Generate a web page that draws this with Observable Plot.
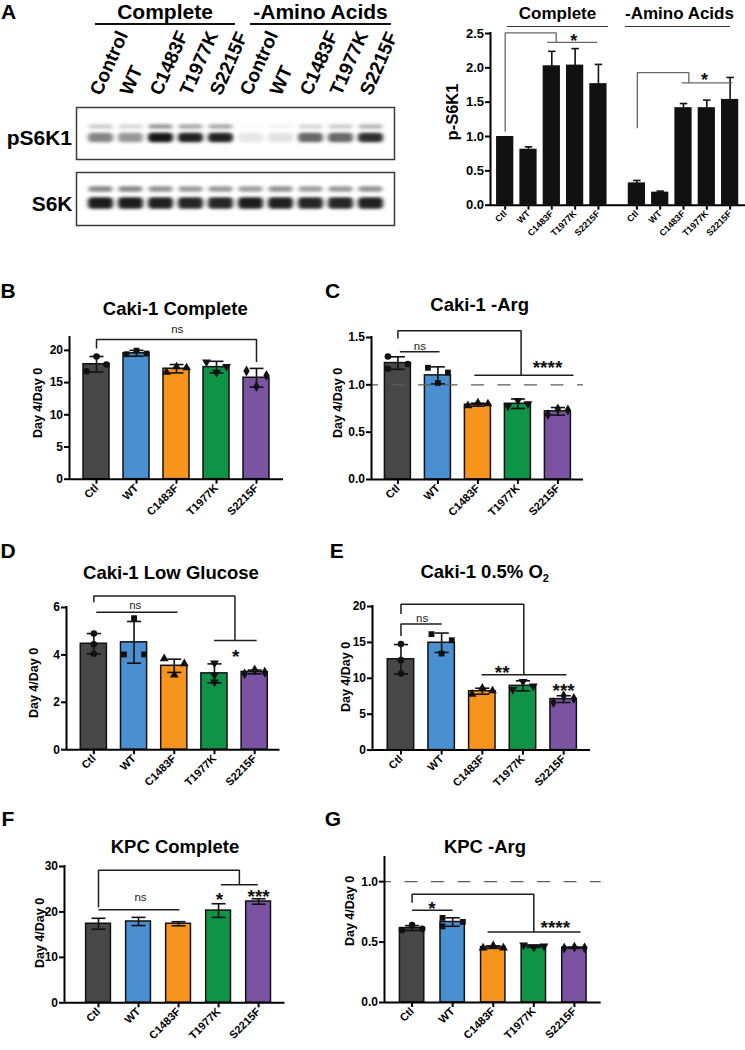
<!DOCTYPE html>
<html><head><meta charset="utf-8">
<script src="https://cdn.jsdelivr.net/npm/d3@7"></script>
<script src="https://cdn.jsdelivr.net/npm/@observablehq/plot@0.6"></script>
<style>
body{margin:0;background:#fff;}
#fig{position:relative;width:745px;height:1050px;font-family:"Liberation Sans",Arial,sans-serif;color:#000;overflow:hidden;background:#fff}
.abs{position:absolute;white-space:nowrap;line-height:1}
.c{transform:translate(-50%,-50%)}
.letter{font-size:21px;font-weight:bold}
.title{font-size:18.5px;font-weight:bold}
.title sub{font-size:11px;vertical-align:-4px}
.ylab{font-size:12.5px;font-weight:bold;transform:translate(-50%,-50%) rotate(-90deg)}
.grp{font-weight:bold;text-align:center;border-bottom:2px solid #111}
.rlab{font-size:21px;font-weight:bold;transform:translate(-100%,-50%)}
</style></head><body><div id="fig"></div><script>
// ---------- data ----------
const categories = ["Ctl","WT","C1483F","T1977K","S2215F"];
const barColors = ["#474747","#4a8fd0","#f7941d","#0f9347","#7a53a3"];
const laneLabels = ["Control","WT","C1483F","T1977K","S2215F","Control","WT","C1483F","T1977K","S2215F"];
const groupLabels = ["Complete","-Amino Acids"];
// western blot band intensities (0 = none, 1 = black)
const pS6K1Upper = [0.2,0.16,0.42,0.36,0.36,0.02,0.04,0.16,0.2,0.3];
const pS6K1Lower = [0.5,0.42,0.95,0.9,0.9,0.1,0.12,0.62,0.62,0.85];
const s6kUpper = [0.5,0.5,0.45,0.42,0.42,0.4,0.45,0.4,0.42,0.45];
const s6kLower = [0.92,0.92,0.9,0.88,0.88,0.92,0.9,0.88,0.88,0.9];
// A: p-S6K1 quantification
const aCompleteMean = [1.0,0.815,2.03,2.04,1.77];
const aCompleteSD = [0,0.035,0.21,0.24,0.28];
const aAminoMean = [0.325,0.19,1.42,1.42,1.54];
const aAminoSD = [0.035,0.015,0.06,0.11,0.32];
const aTicks = [0,0.5,1,1.5,2,2.5];
const aBrackets = [[[0,1.07],[0,2.51],[2.19,2.51],[2.19,2.37]],[[1.8,2.37],[3.95,2.37]],[[5.67,1.12],[5.67,1.93],[7.88,1.93],[7.88,1.78]],[[7.57,1.78],[9.74,1.78]]];
const aSig = [[2.94,2.46,"*"],[8.55,1.89,"*"]];
// B: Caki-1 Complete
const bMean = [17.85,19.55,17.15,17.4,15.75];
const bSD = [1.2,0.45,0.65,0.9,1.45];
const bPoints = [[[19.05,0],[16.75,-1],[17.8,1]],[[19.4,-1],[19.95,0],[19.5,1]],[[16.6,-1],[17.45,0],[17.3,1]],[[18.2,-1],[16.6,0],[17.5,1]],[[16.8,-1],[14.4,0],[16.1,1]]];
const bTicks = [0,5,10,15,20];
const bBrackets = [[[0,20.3],[0,21.7],[4,21.7],[4,18.2]]];
const bSig = [[2.02,23.25,"ns"]];
// C: Caki-1 -Arg
const cMean = [1.23,1.10,0.79,0.80,0.72];
const cSD = [0.066,0.09,0.016,0.05,0.04];
const cPoints = [[[1.30,-1],[1.17,-1],[1.22,1]],[[1.18,-1],[1.13,1],[1.02,0]],[[0.78,-1],[0.81,0],[0.80,1]],[[0.775,-1],[0.835,0],[0.80,1]],[[0.685,-1],[0.745,0],[0.735,1]]];
const cTicks = [0,0.5,1.0,1.5];
const cBrackets = [[[0,1.49],[0,1.57],[3.08,1.57],[3.08,1.10]],[[1.91,1.10],[4.39,1.10]],[[0.05,1.35],[1.04,1.35]]];
const cSig = [[0.55,1.41,"ns"],[3.74,1.235,"****"]];
// D: Caki-1 Low Glucose
const dMean = [4.47,4.53,3.54,3.22,3.28];
const dSD = [0.43,0.88,0.28,0.40,0.08];
const dPoints = [[[4.9,0],[4.45,0],[4.05,0]],[[5.55,0],[4.02,-1],[4.02,1]],[[3.84,-1],[3.63,1],[3.15,0]],[[3.65,0],[3.15,0],[2.85,0]],[[3.2,-1],[3.36,0],[3.27,1]]];
const dTicks = [0,2,4,6];
const dBrackets = [[[0,6.22],[0,6.48],[3.51,6.48],[3.51,4.61]],[[2.99,4.61],[4.05,4.61]],[[0.06,5.8],[2.08,5.8]]];
const dSig = [[1.03,6.08,"ns"],[3.53,4.12,"*"]];
// E: Caki-1 0.5% O2
const eMean = [12.65,14.95,8.2,8.95,7.1];
const eSD = [2.05,1.35,0.42,0.7,0.47];
const ePoints = [[[14.76,0],[12.53,0],[10.67,0]],[[16.15,-1],[15.3,1],[13.45,0]],[[7.8,-1],[8.63,0],[8.26,1]],[[8.44,-1],[9.55,0],[8.91,1]],[[6.63,-1],[7.56,0],[7.19,1]]];
const eTicks = [0,5,10,15,20];
const eBrackets = [[[0,18.94],[0,20.33],[3.02,20.33],[3.02,10.49]],[[0,15.9],[0,17.55],[1,17.55]],[[1.98,10.49],[4.07,10.49]]];
const eSig = [[0.52,18.3,"ns"],[2.49,11.5,"**"],[4.0,8.95,"***"]];
// F: KPC Complete
const fMean = [17.4,17.9,17.4,20.3,22.3];
const fSD = [1.2,0.9,0.45,1.5,0.6];
const fTicks = [0,10,20,30];
const fBrackets = [[[0,21.0],[0,29.2],[3.52,29.2],[3.52,26.0]],[[3.06,26.0],[3.98,26.0]],[[0,20.5],[2.02,20.5]]];
const fSig = [[1.05,23.2,"ns"],[3.02,23.7,"*"],[4.0,24.3,"***"]];
// G: KPC -Arg
const gMean = [0.616,0.666,0.458,0.466,0.453];
const gSD = [0.02,0.035,0.01,0.01,0.005];
const gPoints = [[[0.598,-1],[0.64,0],[0.61,1]],[[0.70,-1],[0.63,-1],[0.667,1]],[[0.452,-1],[0.47,0],[0.452,1]],[[0.475,-1],[0.456,0],[0.467,1]],[[0.45,-1],[0.458,0],[0.452,1]]];
const gTicks = [0,0.5,1.0];
const gBrackets = [[[0,0.825],[0,0.895],[3.0,0.895],[3.0,0.583]],[[1.86,0.583],[4.15,0.583]],[[0,0.764],[1.0,0.764]]];
const gSig = [[0.49,0.82,"*"],[3.53,0.66,"****"]];

// ---------- helpers ----------
const FONT = "Liberation Sans, Arial, sans-serif";
const fig = document.getElementById("fig");
function addDiv(html, cls, left, top, css) {
  const d = document.createElement("div");
  d.className = "abs " + cls; d.innerHTML = html;
  d.style.left = left + "px"; d.style.top = top + "px";
  if (css) d.style.cssText += css;
  fig.appendChild(d); return d;
}
function place(svg, left, top) {
  svg.style.position = "absolute"; svg.style.left = left + "px"; svg.style.top = top + "px";
  svg.style.overflow = "visible"; fig.appendChild(svg);
}
const triangleDown = {draw(ctx, size) {
  const y = Math.sqrt(size / (Math.sqrt(3) * 3)), s = Math.sqrt(3);
  ctx.moveTo(0, 2 * y); ctx.lineTo(-s * y, -y); ctx.lineTo(s * y, -y); ctx.closePath();
}};
const pointSymbols = ["circle","square","triangle",triangleDown,"diamond"];

function barPanel(o) {
  const [fx0, fx1, fy0, fy1] = o.frame;
  const ml = 50, mr = 22, mt = 44, mb = 62;
  const n = o.cats.length;
  const xs = o.xs || d3.range(n);
  const labelOf = new Map(xs.map((x, i) => [x, o.cats[i]]));
  const bars = o.cats.map((c, i) => ({x: xs[i], mean: o.means[i], sd: o.sds[i], color: o.colors[i]}));
  const errs = bars.filter(d => d.sd > 0);
  const caps = errs.flatMap(d => o.upOnly ? [{x: d.x, y: d.mean + d.sd}] : [{x: d.x, y: d.mean + d.sd}, {x: d.x, y: d.mean - d.sd}]);
  const lines = o.brackets.flatMap((br, k) => br.map(([x, y]) => ({x, y, k})));
  const ns = o.sig.filter(t => t[2] === "ns"), stars = o.sig.filter(t => t[2] !== "ns");
  const marks = [
    Plot.rect(bars, {x1: d => d.x - o.hw, x2: d => d.x + o.hw, y1: 0, y2: "mean", fill: "color", stroke: "#111", strokeWidth: o.barStroke ?? 1.5}),
  ];
  if (o.dash != null) marks.push(Plot.ruleY([o.dash], {stroke: "#5c5c5c", strokeWidth: 1.4, strokeDasharray: "13,13.5", strokeDashoffset: 6}));
  marks.push(
    Plot.link(errs, {x1: "x", x2: "x", y1: d => o.upOnly ? d.mean : d.mean - d.sd, y2: d => d.mean + d.sd, stroke: "#111", strokeWidth: 1.6}),
    Plot.link(caps, {x1: d => d.x - o.cw, x2: d => d.x + o.cw, y1: "y", y2: "y", stroke: "#111", strokeWidth: 1.6})
  );
  if (o.points) o.points.forEach((arr, i) => marks.push(
    Plot.dot(arr.map(([v, s]) => ({x: xs[i] + s * o.jit, v})), {x: "x", y: "v", r: 3.3, symbol: pointSymbols[i], fill: "#111", stroke: "none"})
  ));
  marks.push(
    Plot.line(lines, {x: "x", y: "y", z: "k", stroke: o.brStroke || "#1e1e1e", strokeWidth: o.brWidth || 1.5, strokeLinejoin: "miter", strokeLinecap: "butt"}),
    Plot.text(ns, {x: d => d[0], y: d => d[1], text: d => d[2], fontSize: 11.5, fontWeight: "normal", fill: "#222"}),
    Plot.text(stars, {x: d => d[0], y: d => d[1], text: d => d[2], fontSize: o.starSize || 19, fontWeight: "bold", dy: 5, fill: "#111"}),
    Plot.ruleY([0], {stroke: "#000", strokeWidth: 2}),
    Plot.ruleX([o.xDomain[0]], {y1: 0, y2: o.yDomain[1], stroke: "#000", strokeWidth: 2, strokeLinecap: "square"}),
    Plot.axisY({ticks: o.yTicks, tickFormat: o.yFmt || (d => d), tickSize: 5, tickPadding: 1.5, strokeWidth: 2, fontSize: o.yFont || 12, fontWeight: "bold", label: null}),
    Plot.axisX({ticks: xs, tickFormat: d => labelOf.get(d), tickRotate: -45, tickSize: 5, tickPadding: 2, strokeWidth: 2, fontSize: o.xFont || 11, fontWeight: "bold", label: null})
  );
  const svg = Plot.plot({
    width: fx1 - fx0 + ml + mr, height: fy1 - fy0 + mt + mb,
    marginLeft: ml, marginRight: mr, marginTop: mt, marginBottom: mb,
    x: {domain: o.xDomain}, y: {domain: o.yDomain},
    style: {fontFamily: FONT, background: "none", overflow: "visible", color: "#000"},
    marks
  });
  place(svg, fx0 - ml, fy0 - mt);
}

// ---------- western blot ----------
const lanes = d3.range(laneLabels.length);
const laneX = {type: "band", domain: lanes, paddingInner: 0.1, paddingOuter: 0.3, axis: null};
let blurId = 0;
function blot(frame, upper, lower, yr, insU, insL) {
  const [x0, x1, y0, y1] = frame;
  const shade = d3.interpolateRgb("#ffffff", "#0a0a0a");
  const up = lanes.map(i => ({lane: i, row: "upper", v: upper[i]}));
  const lo = lanes.map(i => ({lane: i, row: "lower", v: lower[i]}));
  const svg = Plot.plot({
    width: x1 - x0, height: y1 - y0, margin: 0,
    x: laneX,
    y: {type: "band", domain: ["upper","lower"], range: yr, padding: 0, axis: null},
    style: {background: "none", overflow: "visible"},
    marks: [
      Plot.cell(up, {x: "lane", y: "row", fill: d => shade(d.v), insetTop: insU, insetBottom: insU, insetLeft: 1.5, insetRight: 1.5, rx: 3}),
      Plot.cell(lo, {x: "lane", y: "row", fill: d => shade(d.v), insetTop: insL, insetBottom: insL, insetLeft: 1, insetRight: 1, rx: 4}),
      Plot.frame({stroke: "#3a3a3a", strokeWidth: 1.5})
    ]
  });
  const id = "blur" + (blurId++);
  const s = d3.select(svg);
  s.insert("defs", ":first-child").append("filter").attr("id", id)
    .attr("x", "-30%").attr("y", "-80%").attr("width", "160%").attr("height", "260%")
    .append("feGaussianBlur").attr("stdDeviation", "2.2 1.4");
  s.selectAll('g[aria-label="cell"]').attr("filter", `url(#${id})`);
  place(svg, x0, y0);
}
blot([76, 394, 107, 159], pS6K1Upper, pS6K1Lower, [13, 36], 3.2, 0.8);
blot([76, 394, 172, 225], s6kUpper, s6kLower, [9, 38], 4.2, 1.2);

const laneSvg = Plot.plot({
  width: 318, height: 96, margin: 0, x: laneX,
  style: {fontFamily: FONT, background: "none", overflow: "visible"},
  marks: [Plot.text(laneLabels, {x: (d, i) => i, text: d => d, frameAnchor: "bottom", lineAnchor: "bottom", rotate: -66, textAnchor: "start", fontSize: 19, fontWeight: "bold"})]
});
place(laneSvg, 76, 0);

addDiv(groupLabels[0], "grp", 95, 1, "width:140px;font-size:21px;line-height:21px;padding-bottom:1px;");
addDiv(groupLabels[1], "grp", 250, 1, "width:141px;font-size:21px;line-height:21px;padding-bottom:1px;");
addDiv("pS6K1", "rlab", 72, 137);
addDiv("S6K", "rlab", 72.5, 203);

// ---------- A quantification ----------
const aCats = [...categories, ...categories];
const aGap = 0.65;
barPanel({
  frame: [490, 745, 33.3, 205], cats: aCats, xs: aCats.map((c, i) => i + (i >= 5 ? aGap : 0)),
  means: [...aCompleteMean, ...aAminoMean], sds: [...aCompleteSD, ...aAminoSD], colors: aCats.map(() => "#111"),
  hw: 0.37, cw: 0.16, upOnly: true, xDomain: [-0.63, 10.31], yDomain: [0, 2.5], yTicks: aTicks, yFmt: d3.format(".1f"),
  yFont: 13, xFont: 9, brackets: aBrackets, sig: aSig, brStroke: "#666", brWidth: 1.3, starSize: 18, barStroke: 0
});
addDiv(groupLabels[0], "grp", 507, 4.5, "width:101px;font-size:17px;line-height:17px;padding-bottom:4px;border-bottom:1.5px solid #333;");
addDiv(groupLabels[1], "grp", 625, 4.5, "width:105px;font-size:17px;line-height:17px;padding-bottom:4px;border-bottom:1.5px solid #333;");
addDiv("p-S6K1", "ylab", 451.7, 112, "font-size:16.5px;");

// ---------- B - G ----------
const common = {cats: categories, colors: barColors, jit: 0.25, cw: 0.175};
barPanel({...common, frame: [69, 283, 337.3, 479], means: bMean, sds: bSD, points: bPoints, hw: 0.325, xDomain: [-0.675, 4.675], yDomain: [0, 22], yTicks: bTicks, brackets: bBrackets, sig: bSig});
barPanel({...common, frame: [371, 583, 337, 479], means: cMean, sds: cSD, points: cPoints, hw: 0.325, xDomain: [-0.66, 4.64], yDomain: [0, 1.5], yTicks: cTicks, yFmt: d3.format(".1f"), brackets: cBrackets, sig: cSig, dash: 1});
barPanel({...common, frame: [65.5, 279, 607.3, 749.5], means: dMean, sds: dSD, points: dPoints, hw: 0.325, xDomain: [-0.68, 4.63], yDomain: [0, 6], yTicks: dTicks, brackets: dBrackets, sig: dSig});
barPanel({...common, frame: [372, 590, 605.7, 749.3], means: eMean, sds: eSD, points: ePoints, hw: 0.325, xDomain: [-0.70, 4.66], yDomain: [0, 20], yTicks: eTicks, brackets: eBrackets, sig: eSig});
barPanel({...common, frame: [63.5, 284, 866, 1002.3], means: fMean, sds: fSD, hw: 0.31, xDomain: [-0.85, 4.66], yDomain: [0, 30], yTicks: fTicks, brackets: fBrackets, sig: fSig});
barPanel({...common, frame: [384, 600.7, 856.7, 1001.7], means: gMean, sds: gSD, points: gPoints, hw: 0.30, xDomain: [-0.68, 4.66], yDomain: [0, 1.2], yTicks: gTicks, yFmt: d3.format(".1f"), brackets: gBrackets, sig: gSig, dash: 1});

// ---------- titles, letters, axis labels ----------
const titles = [["Caki-1 Complete",175.3,309.3],["Caki-1 -Arg",479.7,305],["Caki-1 Low Glucose",171,573.3],["Caki-1 0.5% O<sub>2</sub>",484.7,573.3],["KPC Complete",175,846.7],["KPC -Arg",485,846.7]];
titles.forEach(([t, x, y]) => addDiv(t, "title c", x, y));
const letters = [["A",8.5,10.5],["B",8,289.5],["C",332.5,289.5],["D",8,550],["E",336.7,550],["F",8,817.5],["G",333,817.5]];
letters.forEach(([t, x, y]) => addDiv(t, "letter c", x, y));
const ylabs = [[38,402.5],[337.5,402.5],[34,683],[346,677],[40,933],[350,911]];
ylabs.forEach(([x, y]) => addDiv("Day 4/Day 0", "ylab", x, y));
</script></body></html>
